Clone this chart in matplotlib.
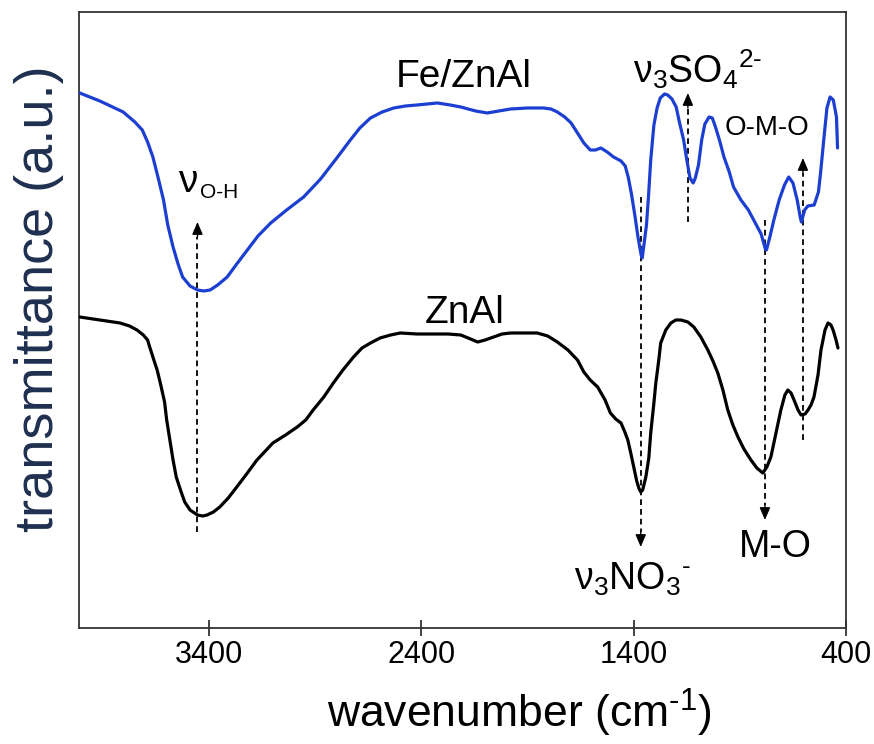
import matplotlib
matplotlib.use("Agg")
import matplotlib.pyplot as plt
import numpy as np

plt.rcParams['font.family'] = ['Liberation Sans', 'DejaVu Sans']
plt.rcParams['mathtext.fontset'] = 'custom'
plt.rcParams['mathtext.rm'] = 'Liberation Sans'
plt.rcParams['mathtext.it'] = 'Liberation Sans'
plt.rcParams['mathtext.bf'] = 'Liberation Sans:bold'

# ---------------- data ----------------
wn_fe = [4010, 3915, 3805, 3750, 3715, 3690, 3665, 3640, 3615, 3595,
         3570, 3545, 3525, 3490, 3455, 3425, 3395, 3360, 3315, 3270,
         3220, 3170, 3110, 3035, 2955, 2875, 2795, 2735, 2690, 2640,
         2585, 2530, 2475, 2420, 2325, 2265, 2215, 2145, 2090, 2035,
         1980, 1900, 1825, 1790, 1760, 1725, 1695, 1665, 1635, 1605,
         1580, 1555, 1525, 1495, 1460, 1440, 1425, 1410, 1395, 1380,
         1365, 1360, 1355, 1340, 1330, 1320, 1305, 1290, 1275, 1255,
         1240, 1220, 1200, 1185, 1165, 1150, 1135, 1120, 1110, 1095,
         1080, 1065, 1045, 1030, 1015, 995, 975, 950, 930, 895,
         860, 830, 800, 780, 775, 760, 740, 715, 690, 670,
         650, 630, 615, 610, 595, 580, 550, 530, 520, 505,
         490, 475, 460, 445, 440]
t_fe = [535, 527, 516, 506, 498, 486, 471, 450, 428, 403,
        381, 363, 351, 342, 338, 337, 338, 343, 351, 364,
        378, 392, 405, 418, 431, 449, 471, 488, 500, 510,
        516, 520, 522, 523, 525, 523, 521, 517, 515, 517,
        519, 520, 520, 519, 516, 511, 505, 495, 485, 478,
        478, 480, 476, 471, 467, 462, 450, 433, 413, 391,
        373, 370, 378, 403, 433, 468, 503, 520, 530, 534,
        533, 529, 521, 506, 488, 468, 450, 445, 450, 463,
        488, 504, 511, 510, 501, 487, 471, 456, 441, 428,
        418, 406, 394, 379, 378, 390, 408, 428, 443, 451,
        445, 428, 410, 406, 418, 422, 423, 436, 455, 488,
        520, 531, 528, 511, 480]

wn_zn = [4010, 3915, 3820, 3775, 3740, 3710, 3690, 3680, 3665, 3645,
         3630, 3610, 3600, 3585, 3570, 3555, 3535, 3515, 3490, 3455,
         3430, 3410, 3380, 3350, 3310, 3270, 3220, 3175, 3135, 3100,
         3040, 2985, 2945, 2910, 2860, 2815, 2770, 2720, 2680, 2640,
         2595, 2545, 2500, 2420, 2345, 2275, 2215, 2180, 2135, 2100,
         2060, 2020, 1980, 1920, 1855, 1805, 1760, 1710, 1665, 1635,
         1605, 1570, 1535, 1510, 1485, 1460, 1442, 1428, 1414, 1400,
         1386, 1376, 1367, 1358, 1343, 1329, 1320, 1306, 1296, 1282,
         1273, 1249, 1225, 1202, 1178, 1145, 1117, 1084, 1051, 1027,
         1004, 980, 957, 933, 909, 881, 848, 820, 792, 773,
         754, 730, 707, 688, 674, 659, 645, 626, 612, 593,
         579, 565, 551, 532, 518, 499, 485, 471, 461, 447,
         438]
t_zn = [311, 308, 305, 302, 298, 293, 288, 281, 271, 258,
        245, 226, 208, 188, 168, 151, 138, 126, 118, 113,
        112, 113, 116, 121, 130, 141, 155, 168, 177, 185,
        193, 201, 208, 218, 231, 245, 258, 271, 280, 285,
        290, 293, 295, 294, 294, 294, 293, 290, 286, 288,
        291, 294, 295, 295, 295, 292, 286, 278, 268, 256,
        248, 241, 228, 215, 209, 205, 196, 188, 175, 161,
        147, 140, 136, 138, 151, 170, 195, 223, 245, 268,
        285, 298, 305, 308, 308, 306, 301, 291, 278, 267,
        255, 238, 218, 203, 191, 179, 168, 160, 155, 161,
        171, 195, 218, 233, 238, 235, 228, 218, 213, 214,
        218, 223, 231, 253, 278, 298, 305, 303, 298, 288,
        280]

x_ticks = [3400, 2400, 1400, 400]

# band markers: (wavenumber, tail, tip)
bands = [(3455, 96, 406),    # O-H, arrow up
         (1367, 431, 81),    # NO3, arrow down
         (1145, 406, 535),   # SO4, arrow up
         (782, 408, 108),    # M-O, arrow down
         (603, 188, 470)]    # O-M-O, arrow up

# ---------------- figure ----------------
fig = plt.figure(figsize=(8.74, 7.44), dpi=100)
ax = fig.add_axes([0.0904, 0.1559, 0.8776, 0.828])

blue = '#1c3fd2'
ax.plot(wn_fe, t_fe, color=blue, lw=2.3, solid_capstyle='round',
        solid_joinstyle='round', zorder=3)
ax.plot(wn_zn, t_zn, color='black', lw=2.3, solid_capstyle='round',
        solid_joinstyle='round', zorder=3)

for w, tail, tip in bands:
    sgn = 1 if tip > tail else -1
    head = 15
    ax.plot([w, w], [tail, tip - sgn * head], color='black', lw=1.3,
            linestyle=(0, (3.2, 2.2)), zorder=2)
    ax.annotate('', xy=(w, tip), xytext=(w, tip - sgn * head),
                arrowprops=dict(arrowstyle='-|>,head_length=0.75,head_width=0.32',
                                color='black', lw=1.0, shrinkA=0, shrinkB=0),
                zorder=4)

txt = dict(color='black', zorder=5)
ax.text(2202, 541, 'Fe/ZnAl', fontsize=28, ha='center', va='baseline', **txt)
ax.text(2197, 305, 'ZnAl', fontsize=28, ha='center', va='baseline', **txt)
ax.text(3546, 436, 'ν', fontsize=28, ha='left', va='baseline', **txt)
ax.text(3442, 430, 'O-H', fontsize=15, ha='left', va='baseline', **txt)
ax.text(1405, 545, r'ν$_3$SO$_4$$^{2\text{-}}$', fontsize=27, ha='left', va='baseline', **txt)
ax.text(773, 493, 'O-M-O', fontsize=20, ha='center', va='baseline', **txt)
ax.text(1683, 38, r'ν$_3$NO$_3$$^{\text{-}}$', fontsize=27, ha='left', va='baseline', **txt)
ax.text(735, 71, 'M-O', fontsize=27, ha='center', va='baseline', **txt)

ax.set_xlim(4013, 400)
ax.set_ylim(0, 616)
ax.set_xticks(x_ticks)
ax.set_xticklabels([str(v) for v in x_ticks])
ax.set_yticks([])
ax.tick_params(axis='x', direction='inout', length=11, width=1.2,
               labelsize=22, pad=3, color='#222222')
for s in ax.spines.values():
    s.set_linewidth(1.3)
    s.set_color('#333333')

ax.set_xlabel(r'wavenumber (cm$^{\text{-}1}$)', fontsize=32)
ax.xaxis.set_label_coords(0.574, -0.096)
ax.set_ylabel('transmittance (a.u.)', fontsize=39, color='#1f2f4f')
ax.yaxis.set_label_coords(-0.02, 0.535)

fig.savefig('out.png', dpi=100)
